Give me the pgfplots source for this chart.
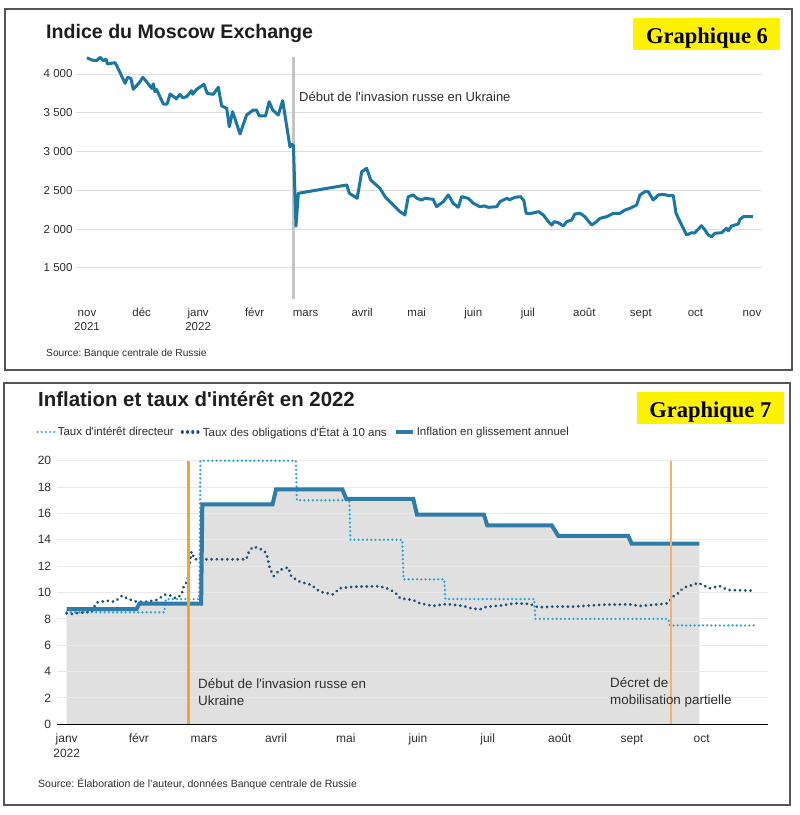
\documentclass[border=0pt]{standalone}
\usepackage{fontspec}
\setmainfont{Liberation Sans}
\newfontfamily\serifbf{Liberation Serif}
\usepackage{pgfplots}
\pgfplotsset{compat=1.18}
\usepackage{pgfplotstable}
\frenchspacing
\definecolor{topblue}{HTML}{1A76A3}
\definecolor{gridc}{HTML}{DDDDDD}
\definecolor{gridb}{HTML}{E9E9E9}
\definecolor{invgray}{HTML}{C4C4C4}
\definecolor{inflc}{HTML}{2E7CA8}
\definecolor{keyc}{HTML}{2AA3D6}
\definecolor{bondc}{HTML}{1F4F7B}
\definecolor{fillc}{HTML}{E0E0E0}
\definecolor{orange1}{HTML}{F5A133}
\definecolor{orange2}{HTML}{F4B36A}
\definecolor{yellowc}{HTML}{FFF200}
\definecolor{framec}{HTML}{555555}
\definecolor{titlec}{HTML}{1E1E1E}
\definecolor{textc}{HTML}{2E2E2E}
\newcommand\q{\textquotesingle}

\pgfplotstableread{
d v
0 4210
2.6 4180
5.3 4172
7.1 4215
9 4172
10.5 4190
11.2 4129
15.4 4146
16.3 4107
18.5 4000
20.9 3880
22.3 3957
24.1 3943
25.4 3803
29.1 3901
30.6 3957
32.7 3901
35.5 3815
36.4 3872
37.3 3772
38.2 3800
41.9 3613
44 3613
45.6 3742
48.3 3695
49 3680
51 3738
52.5 3695
54.7 3708
57.4 3785
58 3740
60.2 3803
64.2 3867
66 3750
69.3 3738
72.1 3828
73.9 3588
76.7 3558
78.1 3320
79.9 3514
84 3227
87.6 3472
91.3 3536
93 3536
94.6 3459
98 3459
100 3643
101.9 3536
105 3472
107.4 3656
111.4 3063
112.4 3095
113.3 3080
114.7 2040
116 2463
142.6 2570
144 2463
148.3 2398
150.8 2741
153.5 2785
155.7 2634
160.8 2527
163.6 2419
168.1 2312
171.8 2226
174.5 2183
176.3 2419
179.1 2441
181 2398
183.7 2376
185.5 2398
190 2385
191.9 2290
195.6 2355
198.3 2441
201 2334
203.8 2282
205.6 2419
209.3 2398
212 2334
215.7 2290
218 2300
220.3 2282
224.9 2290
226.7 2355
230.4 2398
232 2380
234.9 2411
238 2419
239.8 2368
241 2205
244.1 2205
247.8 2226
250.5 2183
253.2 2097
255.1 2054
256.5 2097
258.7 2084
261.4 2041
263.3 2097
266 2118
267.8 2196
270.6 2205
273.3 2161
277 2054
279.7 2097
281.6 2140
285.2 2161
288.9 2205
292.5 2205
295.3 2247
298 2269
301.7 2312
303.5 2441
306.3 2484
308.1 2484
310.8 2376
313.6 2441
316.4 2450
319.1 2433
321.8 2433
323.3 2205
325.5 2097
329.1 1925
331.9 1955
333.5 1950
337.3 2045
339.2 1990
341 1925
342.8 1903
344.6 1947
348.3 1955
351 2011
352 1980
353.8 2041
357.5 2067
358.4 2127
360.2 2161
365.6 2161
}\moex

\pgfplotstableread{
d v
0 8.73
30 8.73
31.2 9.15
57.8 9.15
58.3 16.69
88.5 16.69
90 17.83
118.5 17.83
120.2 17.1
149 17.1
150.6 15.9
179.4 15.9
180.8 15.1
208.5 15.1
211.3 14.3
241.4 14.3
242.9 13.7
272 13.7
}\inflation

\pgfplotstableread{
d v
0 8.5
42 8.5
42.6 9.5
57 9.5
57.5 20
98.5 20
99 17
121.5 17
122 14
144.3 14
144.8 11
162.3 11
162.8 9.5
201 9.5
201.5 8
258.6 8
259.3 7.5
297 7.5
}\keyrate

\pgfplotstableread{
d v
0 8.42
2.1 8.37
5.7 8.47
10.7 8.55
12.8 9.23
17.1 9.38
20.6 9.3
23.9 9.76
26.4 9.51
30 9.3
34.3 9.3
38.6 9.43
42.6 9.86
44.8 9.76
46.9 9.56
49.3 9.81
50.5 10.57
51.9 10.82
52.9 12.21
53.7 13.1
55 12.52
60 12.52
77.2 12.52
78.6 13.22
80.4 13.48
84.4 13.22
85.9 12.97
87.3 11.84
89 11.25
91.6 11.71
95.2 11.91
96.6 11.2
100.2 10.82
105.2 10.57
108.8 10.06
114.5 9.86
117.4 10.32
123.1 10.44
134.6 10.47
138.9 10.24
142.5 9.81
143.3 9.56
148.9 9.43
151.8 9.18
157.5 8.98
163.3 9.13
170.4 8.98
174 8.8
177.6 8.72
180.5 8.92
186.2 9.0
192.6 9.18
199.1 9.13
202.7 8.88
209.1 8.93
217.7 8.93
226.3 9.03
232 9.08
242 9.1
246.3 8.98
256.3 9.13
258.4 9.18
260.6 9.68
262.8 9.94
264.9 10.32
267.1 10.49
269.2 10.57
271.4 10.74
273.5 10.57
276.4 10.32
280.7 10.49
284.3 10.19
295.8 10.14
}\bond

\begin{document}
\begin{tikzpicture}[x=1pt,y=1pt]
\path[use as bounding box] (0,0) rectangle (800,-815);
\fill[white] (0,0) rectangle (800,-815);
\draw[framec, line width=1.5pt] (5,-9) rectangle (792,-370);
\draw[framec, line width=1.5pt] (4,-383) rectangle (790,-805);

% ---------- Top panel ----------
\node[anchor=base west, inner sep=0, text=titlec, font=\fontsize{19.6}{22}\selectfont\bfseries] at (46,-38.3) {Indice du Moscow Exchange};
\fill[yellowc] (633,-18) rectangle (780,-50);
\node[anchor=base, inner sep=0, font=\serifbf\bfseries\fontsize{22.5}{24}\selectfont] at (707,-43.3) {Graphique 6};

\begin{axis}[
  at={(76pt,-299pt)}, anchor=south west, scale only axis,
  width=686pt, height=242pt,
  xmin=-6.04, xmax=370.5, ymin=1100.4, ymax=4219,
  clip=false,
  axis line style={draw=none}, tick style={draw=none}, major tick length=0pt,
  ymajorgrids, grid style={color=gridc, line width=1pt},
  ytick={1500,2000,2500,3000,3500,4000},
  yticklabels={{1 500},{2 000},{2 500},{3 000},{3 500},{4 000}},
  xtick={0,30,61,92,120,151,181,212,242,273,304,334,365},
  xticklabels={{\strut nov\\2021},{\strut déc},{\strut janv\\2022},{\strut févr},{\strut mars},{\strut avril},{\strut mai},{\strut juin},{\strut juil},{\strut août},{\strut sept},{\strut oct},{\strut nov}},
  xticklabel style={align=center, font=\fontsize{11.5}{13.3}\selectfont, text=textc, yshift=-5pt},
  yticklabel style={font=\fontsize{11.5}{13.3}\selectfont, text=textc},
]
\draw[invgray, line width=3pt] (axis cs:113.6,1100.4) -- (axis cs:113.6,4219);
\addplot[topblue, line width=3pt, line join=round] table {\moex};
\end{axis}
\node[anchor=base west, inner sep=0, text=textc, font=\fontsize{13}{15}\selectfont] at (299,-101.7) {Début de l\q invasion russe en Ukraine};
\node[anchor=base west, inner sep=0, text=textc, font=\fontsize{10.2}{12}\selectfont] at (46,-356.7) {Source: Banque centrale de Russie};

% ---------- Bottom panel ----------
\node[anchor=base west, inner sep=0, text=titlec, font=\fontsize{20.4}{23}\selectfont\bfseries] at (38,-406.7) {Inflation et taux d\q intérêt en 2022};
\fill[yellowc] (637,-392) rectangle (784,-424);
\node[anchor=base, inner sep=0, font=\serifbf\bfseries\fontsize{22.5}{24}\selectfont] at (710.4,-417.3) {Graphique 7};

\begin{axis}[
  at={(57pt,-724.3pt)}, anchor=south west, scale only axis,
  width=711pt, height=263.6pt,
  xmin=-4.17, xmax=301.5, ymin=0, ymax=20,
  clip=false,
  axis line style={draw=none}, tick style={draw=none}, major tick length=0pt,
  ytick={0,2,...,20},
  /pgf/number format/assume math mode=true,
  xtick={0,31,59,90,120,151,181,212,243,273},
  xticklabels={{\strut janv\\2022},{\strut févr},{\strut mars},{\strut avril},{\strut mai},{\strut juin},{\strut juil},{\strut août},{\strut sept},{\strut oct}},
  xticklabel style={align=center, font=\fontsize{12}{14.4}\selectfont, text=textc, yshift=-5pt},
  yticklabel style={font=\fontsize{12}{14.4}\selectfont, text=textc, xshift=-2.3pt},
  legend columns=3,
  legend style={at={(-0.0295,1.109)}, anchor=west, draw=none, fill=none, inner sep=0pt,
    font=\fontsize{11.5}{13}\selectfont, text=textc,
    /tikz/every even column/.append style={column sep=5pt}},
  legend cell align=left,
]
\addplot[fill=fillc, draw=none, forget plot] table {\inflation} \closedcycle;
\pgfplotsinvokeforeach{2,4,...,20}{
  \draw[gridb, line width=1pt] (axis cs:-4.17,#1) -- (axis cs:301.5,#1);
}
\addplot[keyc, line width=2.5pt, line cap=round, dash pattern=on 0.01pt off 4.2pt] table {\keyrate};
\addlegendentry{Taux d\q intérêt directeur}
\addplot[bondc, line width=3.1pt, line cap=round, dash pattern=on 0.01pt off 5.2pt] table {\bond};
\addlegendentry{Taux des obligations d\q État à 10 ans}
\addplot[inflc, line width=4pt] table {\inflation};
\addlegendentry{Inflation en glissement annuel}
\draw[black, line width=0.9pt] (axis cs:-4.17,0) -- (axis cs:301.5,0);
\draw[orange1, line width=3pt] (axis cs:52.2,0) -- (axis cs:52.2,20);
\draw[orange2, line width=2pt] (axis cs:260,0) -- (axis cs:260,20);
\end{axis}
\node[anchor=base west, inner sep=0, text=textc, font=\fontsize{13.4}{16}\selectfont] at (198,-688.3) {Début de l\q invasion russe en};
\node[anchor=base west, inner sep=0, text=textc, font=\fontsize{13.4}{16}\selectfont] at (198,-705) {Ukraine};
\node[anchor=base west, inner sep=0, text=textc, font=\fontsize{13.4}{16}\selectfont] at (610,-687.7) {Décret de};
\node[anchor=base west, inner sep=0, text=textc, font=\fontsize{13.4}{16}\selectfont] at (610,-704.3) {mobilisation partielle};
\node[anchor=base west, inner sep=0, text=textc, font=\fontsize{10.5}{12}\selectfont] at (38,-787.7) {Source: Élaboration de l’auteur, données Banque centrale de Russie};
\end{tikzpicture}
\end{document}
